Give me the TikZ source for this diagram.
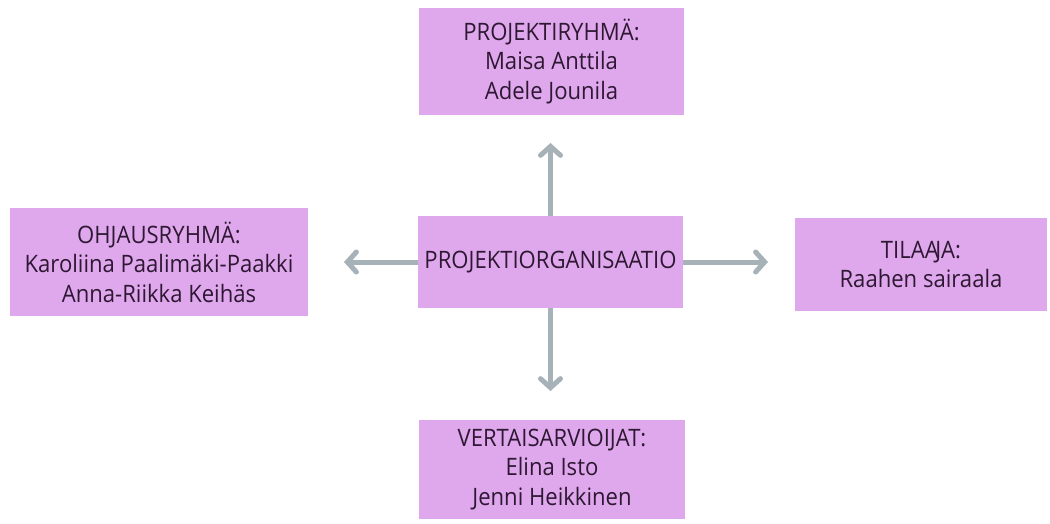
\documentclass[tikz,border=0pt]{standalone}
\usepackage{fontspec}
\setmainfont[FakeStretch=0.92]{Open Sans}
\usetikzlibrary{arrows.meta}
\definecolor{boxfill}{HTML}{DFA8EC}
\definecolor{boxtext}{HTML}{2E1833}
\definecolor{arrowgray}{HTML}{A6B1B8}
\tikzset{
  box/.style={fill=boxfill, draw=none, inner sep=0pt, align=center,
    text=boxtext, font=\fontsize{24}{29.5}\selectfont},
  conn/.style={draw=arrowgray, line width=5pt,
    -{Straight Barb[length=9pt, width=20pt, line cap=round, line width=5pt]}}
}
\begin{document}
\begin{tikzpicture}[x=1pt,y=-1pt]
\useasboundingbox (0,0) rectangle (1050,523);
\node[box, minimum width=265pt, minimum height=107pt] (top) at (551.5,61.5)
  {PROJEKTIRYHMÄ:\\Maisa Anttila\\Adele Jounila};
\node[box, minimum width=265pt, minimum height=92pt] (c) at (550.5,262)
  {PROJEKTIORGANISAATIO};
\node[box, minimum width=298pt, minimum height=108pt] (l) at (159,262)
  {OHJAUSRYHMÄ:\\Karoliina Paalimäki-Paakki\\Anna-Riikka Keihäs};
\node[box, minimum width=252pt, minimum height=93pt] (r) at (921,264.5)
  {TILAA\kern-3.5pt JA:\\Raahen sairaala};
\node[box, minimum width=266pt, minimum height=99pt] (b) at (552,469.5)
  {VERTAISARVIOIJAT:\\Elina Isto\\Jenni Heikkinen};
\coordinate (tu) at (550.5,143);
\coordinate (td) at (550.5,391);
\coordinate (tl) at (344,262);
\coordinate (tr) at (768,262);
\draw[conn] (c.north) -- (tu);
\draw[conn] (c.south) -- (td);
\draw[conn] (c.west) -- (tl);
\draw[conn] (c.east) -- (tr);
\end{tikzpicture}
\end{document}
